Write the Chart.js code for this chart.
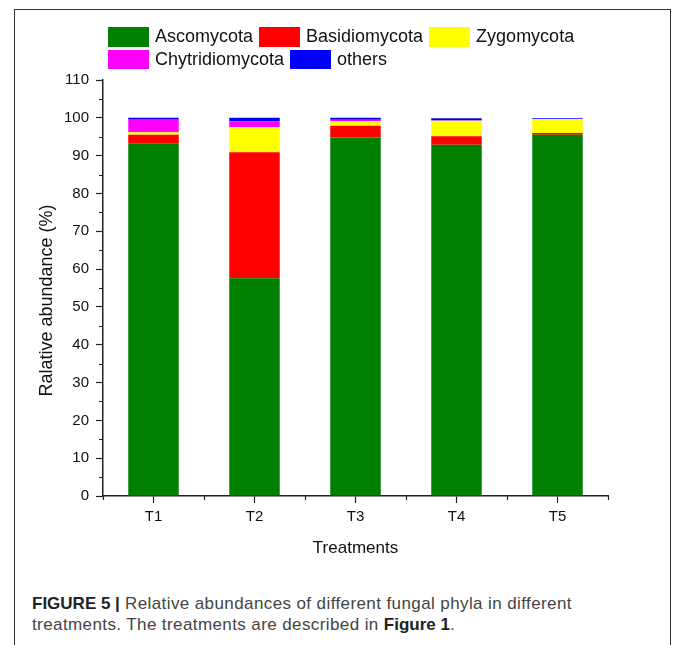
<!DOCTYPE html>
<html>
<head>
<meta charset="utf-8">
<script src="https://cdn.jsdelivr.net/npm/chart.js@4"></script>
<style>
  body { margin: 0; background: #fff; font-family: 'Liberation Sans', Arial, sans-serif; }
  #frame { position: absolute; left: 14px; top: 9px; width: 655px; height: 640px;
           border: 1.5px solid #333; border-bottom: none; }
  #chart { position: absolute; left: 0; top: 0; }
  #legend { position: absolute; left: 108px; top: 27px; width: 500px; display: flex; flex-wrap: wrap; row-gap: 3px; }
  .item { display: flex; align-items: center; height: 19.5px; font-size: 18px; color: #111; }
  .box { width: 41px; height: 19.5px; margin-right: 6px; }
  .item span { margin-right: 6px; }
  #caption { position: absolute; left: 32px; top: 593px; width: 600px; font-size: 17px; line-height: 21px;
             letter-spacing: 0.4px; color: #444; }
  #caption b { color: #222; letter-spacing: 0; }
</style>
</head>
<body>
<div id="frame"></div>
<canvas id="chart" width="673" height="580"></canvas>
<div id="legend"></div>
<div id="caption"><b>FIGURE 5 |</b> Relative abundances of different fungal phyla in different<br>treatments. The treatments are described in <b>Figure 1</b>.</div>
<script>
// số liệu
const categories = ['T1', 'T2', 'T3', 'T4', 'T5'];
const ascomycota = [93.3, 57.6, 94.8, 92.9, 95.5];
const basidiomycota = [2.2, 33.3, 3.1, 2.2, 0.5];
const zygomycota = [0.7, 6.7, 1.2, 4.1, 3.6];
const chytridiomycota = [3.5, 1.5, 0.4, 0.1, 0.1];
const others = [0.3, 0.9, 0.5, 0.6, 0.2];
const yTicks = [0, 10, 20, 30, 40, 50, 60, 70, 80, 90, 100, 110];

const font = 'Liberation Sans, Arial, sans-serif';

// vạch chia phụ
const minorTicks = {
  id: 'minorTicks',
  afterDraw(chart) {
    const { ctx, chartArea, scales: { x, y } } = chart;
    ctx.save();
    ctx.strokeStyle = '#222';
    ctx.lineWidth = 1.2;
    ctx.beginPath();
    for (let v = 5; v < 110; v += 10) {
      const py = Math.round(y.getPixelForValue(v)) + 0.5;
      ctx.moveTo(chartArea.left - 4, py);
      ctx.lineTo(chartArea.left, py);
    }
    const edges = [chartArea.left, chartArea.right];
    for (let i = 0; i < categories.length - 1; i++) {
      edges.push((x.getPixelForValue(i) + x.getPixelForValue(i + 1)) / 2);
    }
    edges.forEach(px => {
      ctx.moveTo(Math.round(px) + 0.5, chartArea.bottom);
      ctx.lineTo(Math.round(px) + 0.5, chartArea.bottom + 4);
    });
    ctx.stroke();
    ctx.restore();
  }
};

const chart = new Chart(document.getElementById('chart'), {
  type: 'bar',
  data: {
    labels: categories,
    datasets: [
      { label: 'Ascomycota', data: ascomycota, backgroundColor: '#008000' },
      { label: 'Basidiomycota', data: basidiomycota, backgroundColor: '#ff0000' },
      { label: 'Zygomycota', data: zygomycota, backgroundColor: '#ffff00' },
      { label: 'Chytridiomycota', data: chytridiomycota, backgroundColor: '#ff00ff' },
      { label: 'others', data: others, backgroundColor: '#0000ff' }
    ]
  },
  options: {
    responsive: false,
    animation: false,
    layout: { padding: { left: 0, top: 80, right: 65, bottom: 0 } },
    datasets: { bar: { categoryPercentage: 1, barPercentage: 0.5, borderWidth: 0 } },
    plugins: { legend: { display: false }, tooltip: { enabled: false } },
    scales: {
      x: {
        stacked: true,
        offset: true,
        afterFit: s => { s.height = 84; },
        border: { color: '#222', width: 1.5 },
        grid: { display: true, drawOnChartArea: false, offset: false, tickLength: 7, tickColor: '#222', tickWidth: 1.2 },
        ticks: { color: '#111', font: { family: font, size: 15 }, padding: 5 },
        title: { display: true, text: 'Treatments', color: '#111', font: { family: font, size: 17 }, padding: { top: 0, bottom: 21 } }
      },
      y: {
        stacked: true,
        min: 0,
        max: 110,
        afterFit: s => { s.width = 103; },
        afterBuildTicks: s => { s.ticks = yTicks.map(v => ({ value: v })); },
        border: { color: '#222', width: 1.5 },
        grid: { display: true, drawOnChartArea: false, tickLength: 7, tickColor: '#222', tickWidth: 1.2 },
        ticks: { color: '#111', font: { family: font, size: 15 }, padding: 7 },
        // khoảng trắng cuối để dịch tiêu đề xuống giống hình gốc
        title: { display: true, text: 'Ralative abundance (%)     ', color: '#111', font: { family: font, size: 18 }, padding: { top: 36 } }
      }
    }
  },
  plugins: [minorTicks]
});

// chú thích dựng từ dataset
const legend = document.getElementById('legend');
chart.data.datasets.forEach(ds => {
  const item = document.createElement('div');
  item.className = 'item';
  item.innerHTML = '<div class="box" style="background:' + ds.backgroundColor + '"></div><span>' + ds.label + '</span>';
  legend.appendChild(item);
});
</script>
</body>
</html>
